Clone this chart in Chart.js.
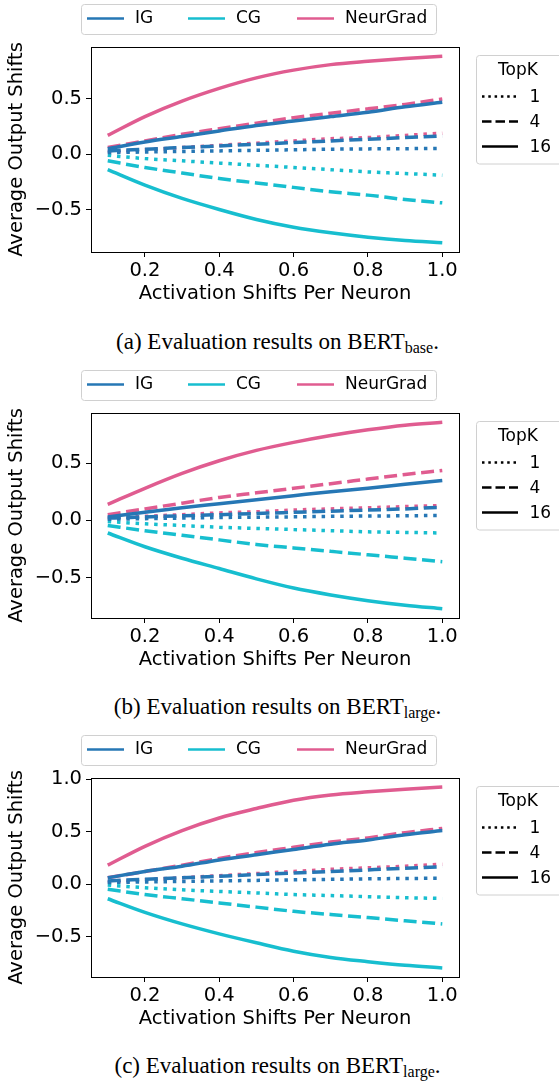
<!DOCTYPE html>
<html>
<head>
<meta charset="utf-8">
<script src="https://cdn.jsdelivr.net/npm/chart.js@4.4.1/dist/chart.umd.min.js"></script>
<style>
  body { margin: 0; background: #fff; width: 559px; height: 1082px; position: relative; overflow: hidden; }
  canvas { position: absolute; left: 0; }
  .cap { position: absolute; left: 0; width: 555px; text-align: center; font-family: "Liberation Serif", serif; font-size: 23px; color: #000; }
  .cap sub { font-size: 16px; vertical-align: -4px; }
</style>
</head>
<body>
<canvas id="chartA" width="559" height="306" style="top:0px"></canvas>
<canvas id="chartB" width="559" height="306" style="top:366px"></canvas>
<canvas id="chartC" width="559" height="300" style="top:731px"></canvas>
<div class="cap" style="top:329px">(a) Evaluation results on BERT<sub>base</sub>.</div>
<div class="cap" style="top:694px">(b) Evaluation results on BERT<sub>large</sub>.</div>
<div class="cap" style="top:1053px">(c) Evaluation results on BERT<sub>large</sub>.</div>
<script>
// x = activation shift per neuron
var xValues = [0.1, 0.2, 0.3, 0.4, 0.5, 0.6, 0.7, 0.8, 0.9, 1.0];
var xTicks = [0.2, 0.4, 0.6, 0.8, 1.0];
var methods = ["IG", "CG", "NeurGrad"];
var methodColors = ["#2677b5", "#17becf", "#e05c90"];
var topK = ["1", "4", "16"];

// (a) BERT base
var igBase1  = [0.015, 0.02, 0.025, 0.03, 0.035, 0.04, 0.045, 0.048, 0.05, 0.053];
var igBase4  = [0.03, 0.045, 0.06, 0.075, 0.09, 0.105, 0.12, 0.135, 0.15, 0.165];
var igBase16 = [0.05, 0.11, 0.16, 0.21, 0.26, 0.30, 0.34, 0.38, 0.43, 0.47];
var cgBase1  = [-0.01, -0.04, -0.06, -0.08, -0.10, -0.12, -0.14, -0.16, -0.175, -0.19];
var cgBase4  = [-0.06, -0.12, -0.17, -0.22, -0.26, -0.30, -0.34, -0.37, -0.41, -0.44];
var cgBase16 = [-0.14, -0.28, -0.40, -0.50, -0.59, -0.66, -0.71, -0.75, -0.78, -0.80];
var ngBase1  = [0.02, 0.04, 0.06, 0.08, 0.10, 0.12, 0.14, 0.15, 0.17, 0.19];
var ngBase4  = [0.06, 0.12, 0.18, 0.23, 0.28, 0.33, 0.37, 0.41, 0.45, 0.50];
var ngBase16 = [0.17, 0.34, 0.48, 0.595, 0.69, 0.76, 0.81, 0.84, 0.865, 0.885];

// (b) BERT large
var igLarge1  = [0.01, 0.015, 0.02, 0.025, 0.028, 0.031, 0.035, 0.038, 0.04, 0.043];
var igLarge4  = [0.02, 0.03, 0.04, 0.05, 0.06, 0.07, 0.08, 0.09, 0.10, 0.115];
var igLarge16 = [0.03, 0.07, 0.11, 0.145, 0.18, 0.215, 0.25, 0.28, 0.315, 0.348];
var cgLarge1  = [-0.01, -0.03, -0.045, -0.06, -0.07, -0.08, -0.09, -0.10, -0.105, -0.11];
var cgLarge4  = [-0.045, -0.09, -0.13, -0.17, -0.21, -0.24, -0.27, -0.30, -0.33, -0.36];
var cgLarge16 = [-0.11, -0.23, -0.33, -0.42, -0.51, -0.59, -0.65, -0.70, -0.74, -0.77];
var ngLarge1  = [0.02, 0.035, 0.05, 0.065, 0.075, 0.09, 0.10, 0.11, 0.12, 0.13];
var ngLarge4  = [0.05, 0.10, 0.15, 0.20, 0.24, 0.28, 0.32, 0.36, 0.40, 0.435];
var ngLarge16 = [0.14, 0.28, 0.41, 0.52, 0.61, 0.68, 0.74, 0.79, 0.83, 0.855];

// (c) BERT large, second run
var igLargeC1  = [0.015, 0.02, 0.025, 0.03, 0.035, 0.04, 0.045, 0.05, 0.053, 0.056];
var igLargeC4  = [0.03, 0.045, 0.06, 0.075, 0.09, 0.105, 0.12, 0.135, 0.15, 0.165];
var igLargeC16 = [0.06, 0.12, 0.17, 0.23, 0.28, 0.33, 0.38, 0.42, 0.47, 0.51];
var cgLargeC1  = [-0.01, -0.035, -0.055, -0.07, -0.085, -0.10, -0.11, -0.12, -0.13, -0.137];
var cgLargeC4  = [-0.05, -0.10, -0.14, -0.18, -0.22, -0.26, -0.29, -0.32, -0.35, -0.38];
var cgLargeC16 = [-0.14, -0.27, -0.38, -0.475, -0.56, -0.64, -0.70, -0.74, -0.775, -0.80];
var ngLargeC1  = [0.02, 0.04, 0.06, 0.08, 0.10, 0.12, 0.14, 0.155, 0.17, 0.19];
var ngLargeC4  = [0.06, 0.12, 0.18, 0.245, 0.30, 0.35, 0.40, 0.44, 0.49, 0.53];
var ngLargeC16 = [0.18, 0.36, 0.51, 0.63, 0.72, 0.80, 0.85, 0.88, 0.905, 0.925];

var yTicksAB = [-0.5, 0.0, 0.5];
var yTicksC = [-0.5, 0.0, 0.5, 1.0];

var FONT = "'DejaVu Sans', sans-serif";
var dashFor = { "1": [3.5, 5.8], "4": [13, 5.6], "16": [] };

function buildDatasets(groups) { // groups[method][k]
  var sets = [];
  for (var m = 0; m < groups.length; m++) {
    for (var k = 0; k < topK.length; k++) {
      sets.push({
        label: methods[m] + " " + topK[k],
        data: xValues.map(function (x, i) { return { x: x, y: groups[m][k][i] }; }),
        borderColor: methodColors[m],
        borderWidth: 3.5,
        borderDash: dashFor[topK[k]],
        borderCapStyle: "butt",
        pointRadius: 0,
        cubicInterpolationMode: "monotone",
        fill: false
      });
    }
  }
  return sets;
}

// frame + both legends drawn on the canvas
var extras = {
  id: "extras",
  afterDraw: function (chart) {
    var ctx = chart.ctx, a = chart.chartArea;
    ctx.save();
    ctx.strokeStyle = "#000";
    ctx.lineWidth = 1;
    ctx.strokeRect(Math.round(a.left) + 0.5, Math.round(a.top) + 0.5, Math.round(a.right - a.left), Math.round(a.bottom - a.top));

    // method legend
    ctx.strokeStyle = "#d0d0d0";
    ctx.beginPath();
    ctx.roundRect(81.5, 4.5, 355, 30, 3);
    ctx.stroke();
    var lineX = [87, 188, 297], textX = [135, 236, 345];
    ctx.font = "17px " + FONT;
    ctx.textBaseline = "middle";
    for (var i = 0; i < methods.length; i++) {
      ctx.strokeStyle = methodColors[i];
      ctx.lineWidth = 2.7;
      ctx.beginPath();
      ctx.moveTo(lineX[i], 18.5); ctx.lineTo(lineX[i] + 37, 18.5);
      ctx.stroke();
      ctx.fillStyle = "#000";
      ctx.fillText(methods[i], textX[i], 19);
    }

    // TopK legend
    ctx.strokeStyle = "#d0d0d0";
    ctx.lineWidth = 1;
    ctx.beginPath();
    ctx.roundRect(476.5, 55.5, 90, 108.5, 3);
    ctx.stroke();
    ctx.fillStyle = "#000";
    ctx.textAlign = "center";
    ctx.fillText("TopK", 518, 71);
    ctx.textAlign = "left";
    var rowY = [96.5, 121.5, 146.5];
    var legDash = { "1": [2.5, 3.8], "4": [9.5, 4], "16": [] };
    for (var k = 0; k < topK.length; k++) {
      ctx.strokeStyle = "#000";
      ctx.lineWidth = 2.7;
      ctx.setLineDash(legDash[topK[k]]);
      ctx.beginPath();
      ctx.moveTo(482, rowY[k]); ctx.lineTo(518, rowY[k]);
      ctx.stroke();
      ctx.setLineDash([]);
      ctx.fillText(topK[k], 529.5, rowY[k] + 1);
    }
    ctx.restore();
  }
};

function fmt(v) {
  var s = Math.abs(v).toFixed(1);
  return v < 0 ? "\u2212" + s : s;
}

function makeChart(id, groups, yTicks, plotBottom, height) {
  var all = [];
  groups.forEach(function (g) { g.forEach(function (s) { all = all.concat(s); }); });
  var lo = Math.min.apply(null, all), hi = Math.max.apply(null, all);
  var pad = (hi - lo) * 0.05;
  var xPad = (xValues[xValues.length - 1] - xValues[0]) * 0.05;

  return new Chart(document.getElementById(id), {
    type: "line",
    data: { datasets: buildDatasets(groups) },
    options: {
      responsive: false,
      animation: false,
      devicePixelRatio: 1,
      layout: { padding: { top: 47, right: 100, left: 0, bottom: 0 } },
      plugins: { legend: { display: false }, tooltip: { enabled: false } },
      scales: {
        x: {
          type: "linear",
          min: xValues[0] - xPad,
          max: xValues[xValues.length - 1] + xPad,
          afterBuildTicks: function (s) { s.ticks = xTicks.map(function (v) { return { value: v }; }); },
          afterFit: function (s) { s.height = height - plotBottom; },
          grid: { display: true, drawOnChartArea: false, drawTicks: true, tickLength: 5, color: "#000" },
          border: { display: false },
          ticks: { color: "#000", font: { family: FONT, size: 19.5 }, padding: 2, maxRotation: 0, callback: fmt },
          title: { display: true, text: "Activation Shifts Per Neuron", color: "#000", font: { family: FONT, size: 19.5 }, padding: 0 }
        },
        y: {
          min: lo - pad,
          max: hi + pad,
          afterBuildTicks: function (s) { s.ticks = yTicks.map(function (v) { return { value: v }; }); },
          afterFit: function (s) { s.width = 91; },
          grid: { display: true, drawOnChartArea: false, drawTicks: true, tickLength: 5, color: "#000" },
          border: { display: false },
          ticks: { color: "#000", font: { family: FONT, size: 19.5 }, padding: 4, callback: fmt },
          title: { display: true, text: "Average Output Shifts", color: "#000", font: { family: FONT, size: 19.5 }, padding: { top: 5, bottom: 0 } }
        }
      }
    },
    plugins: [extras]
  });
}

makeChart("chartA", [[igBase1, igBase4, igBase16], [cgBase1, cgBase4, cgBase16], [ngBase1, ngBase4, ngBase16]], yTicksAB, 252, 306);
makeChart("chartB", [[igLarge1, igLarge4, igLarge16], [cgLarge1, cgLarge4, cgLarge16], [ngLarge1, ngLarge4, ngLarge16]], yTicksAB, 252, 306);
makeChart("chartC", [[igLargeC1, igLargeC4, igLargeC16], [cgLargeC1, cgLargeC4, cgLargeC16], [ngLargeC1, ngLargeC4, ngLargeC16]], yTicksC, 246, 300);
</script>
</body>
</html>
